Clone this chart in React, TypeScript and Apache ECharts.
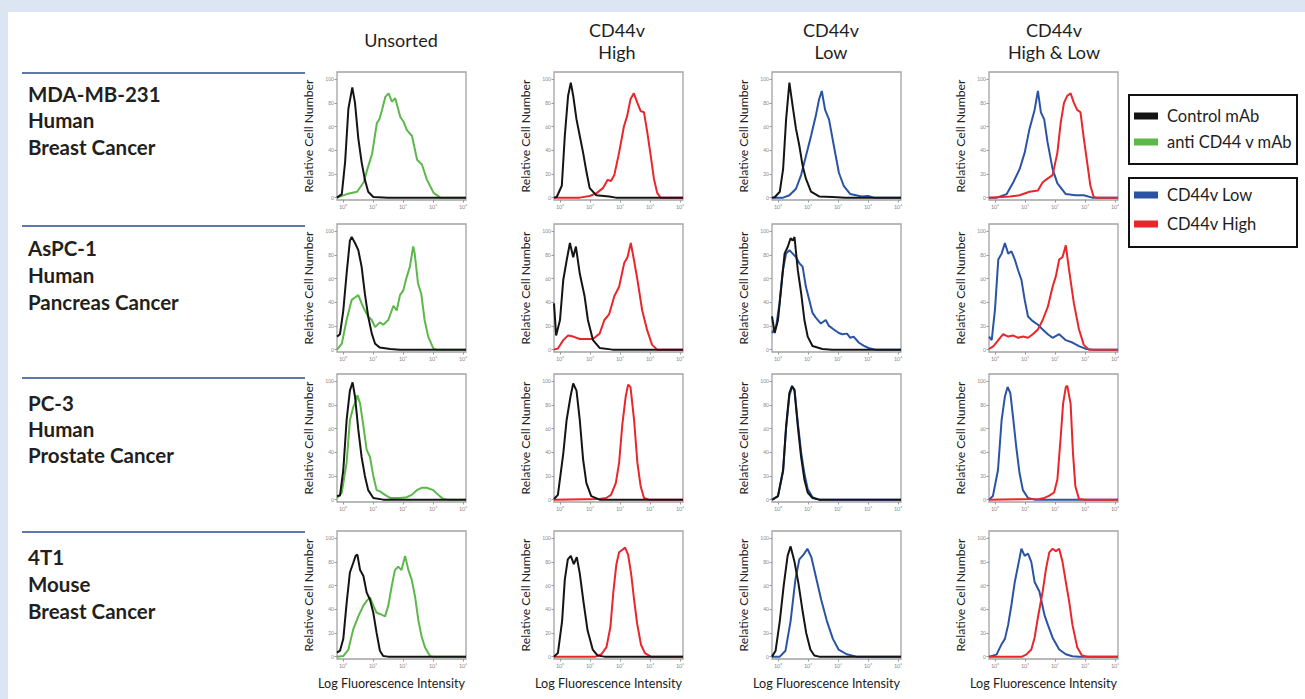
import React, { useEffect, useRef } from "react";
import * as echarts from "echarts";

// ---------- text content ----------
const columnTitles: string[][] = [["Unsorted"], ["CD44v", "High"], ["CD44v", "Low"], ["CD44v", "High & Low"]];
const rowLabels: string[][] = [
  ["MDA-MB-231", "Human", "Breast Cancer"],
  ["AsPC-1", "Human", "Pancreas Cancer"],
  ["PC-3", "Human", "Prostate Cancer"],
  ["4T1", "Mouse", "Breast Cancer"],
];
const xTickValues = [0, 1, 2, 3, 4];
const xTickLabels = ["10⁰", "10¹", "10²", "10³", "10⁴"];
const yTickValues = [0, 20, 40, 60, 80, 100];
const yAxisName = "Relative Cell Number";
const xAxisName = "Log Fluorescence Intensity";
const legendTop = ["Control mAb", "anti CD44 v mAb"];
const legendBottom = ["CD44v Low", "CD44v High"];

// ---------- data: [log10 intensity, relative cell number] ----------
const mdaUnsortedControl = [[-0.2,0],[-0.04,3],[0.07,30],[0.18,75],[0.31,93],[0.4,80],[0.51,50],[0.62,30],[0.73,15],[0.84,5],[1.01,0.5],[1.5,0],[4.1,0]];
const mdaUnsortedAnti = [[-0.2,0],[0.13,3],[0.47,5],[0.69,13],[0.8,23],[0.97,37],[1.13,63],[1.21,66],[1.3,74],[1.41,85],[1.52,88],[1.63,81],[1.74,84],[1.91,68],[2.02,64],[2.13,57],[2.3,52],[2.47,32],[2.63,28],[2.8,15],[3.02,4],[3.24,0],[4.1,0]];
const mdaHighControl = [[-0.2,0],[-0.11,0.5],[0.06,10],[0.16,52],[0.27,86],[0.36,97],[0.44,86],[0.55,66],[0.66,52],[0.77,38],[0.88,22],[0.99,8],[1.21,2],[1.64,1],[1.86,0],[4.1,0]];
const mdaHighSorted = [[-0.2,0],[0.66,0],[0.99,1.4],[1.21,3.6],[1.43,8],[1.59,15],[1.7,14],[1.81,19],[1.97,38],[2.13,60],[2.24,69],[2.35,83],[2.46,88],[2.58,80],[2.69,73],[2.8,72],[2.91,55],[3.02,36],[3.13,16],[3.24,4],[3.35,0],[4.1,0]];
const mdaLowControl = [[-0.2,0],[-0.11,0.3],[0.06,5],[0.17,24],[0.27,66],[0.38,97],[0.49,77],[0.6,58],[0.71,44],[0.82,27],[0.93,16],[1.1,5],[1.37,1],[1.81,0.5],[2.25,0],[4.1,0]];
const mdaLowSorted = [[-0.2,0],[0.17,0],[0.38,2],[0.6,7.5],[0.77,19],[0.93,35],[1.1,52],[1.26,69],[1.37,83],[1.46,90],[1.57,74],[1.7,66],[1.86,44],[2.03,21],[2.19,10],[2.41,3],[2.79,1],[3.0,1.4],[3.2,0],[4.1,0]];
const mdaBothLow = [[-0.2,0],[0.06,0],[0.39,3],[0.61,13],[0.82,24],[0.99,38],[1.15,58],[1.32,74],[1.43,90],[1.53,72],[1.64,66],[1.75,47],[1.92,24],[2.08,12],[2.36,3],[2.68,2],[2.96,2],[3.24,0],[4.1,0]];
const mdaBothHigh = [[-0.2,0],[0.5,1],[0.82,2],[1.15,5],[1.43,6],[1.59,13],[1.75,16],[1.92,19],[2.08,38],[2.19,63],[2.3,80],[2.41,86],[2.52,88],[2.63,80],[2.74,74],[2.85,72],[2.96,50],[3.07,30],[3.18,10],[3.29,0.5],[3.4,0],[4.1,0]];

const asUnsortedControl = [[-0.2,11],[-0.1,13],[0.01,33],[0.12,64],[0.23,92],[0.29,95],[0.4,90],[0.51,84],[0.62,70],[0.73,47],[0.84,28],[0.96,13.5],[1.07,5],[1.23,1.7],[1.57,0.5],[1.9,0],[4.1,0]];
const asUnsortedAnti = [[-0.2,0],[-0.04,5],[0.12,25],[0.29,42],[0.4,44],[0.51,46],[0.62,39],[0.73,33],[0.84,28],[0.96,25],[1.07,19],[1.23,23],[1.34,21],[1.51,25],[1.68,37],[1.79,33],[1.9,46],[2.01,50],[2.12,61],[2.23,70],[2.34,87],[2.39,81],[2.5,56],[2.61,47],[2.72,25],[2.84,11],[3.01,1],[3.12,0],[4.1,0]];
const asHighControl = [[-0.2,39],[-0.13,12],[0.0,25],[0.11,59],[0.22,75],[0.33,90],[0.44,78],[0.53,87],[0.66,64],[0.82,45],[0.93,25],[1.1,8],[1.32,1.4],[1.75,0],[4.1,0]];
const asHighSorted = [[-0.2,0],[-0.07,1],[0.11,8],[0.27,12],[0.44,11],[0.66,9],[0.88,9],[1.1,9],[1.32,13.5],[1.48,25],[1.64,30],[1.81,45],[1.97,53],[2.14,73],[2.25,78],[2.36,90],[2.47,75],[2.58,59],[2.74,33],[2.91,16],[3.07,4],[3.24,0],[4.1,0]];
const asLowControl = [[-0.2,28],[-0.11,14],[0.0,25],[0.11,53],[0.22,81],[0.33,87],[0.42,94],[0.49,92],[0.55,95],[0.66,67],[0.77,48],[0.88,25],[0.99,11],[1.15,3],[1.48,0.5],[1.8,0],[4.1,0]];
const asLowSorted = [[-0.2,14],[-0.06,20],[0.05,39],[0.16,67],[0.27,81],[0.38,84],[0.49,81],[0.6,78],[0.71,73],[0.82,70],[0.93,53],[1.04,42],[1.15,31],[1.26,27],[1.43,22],[1.59,25],[1.7,20],[1.86,17],[2.03,14],[2.14,13],[2.3,13.5],[2.41,10],[2.52,11],[2.69,6],[2.85,3.4],[3.02,1.4],[3.24,0],[4.1,0]];
const asBothLow = [[-0.2,11],[-0.11,8],[0.0,34],[0.11,76],[0.22,81],[0.33,90],[0.44,81],[0.55,83],[0.66,76],[0.77,67],[0.88,59],[0.99,42],[1.1,28],[1.26,24],[1.43,21],[1.59,17],[1.76,13],[1.92,10],[2.14,13],[2.36,8],[2.58,6],[2.8,3],[3.03,0.6],[3.25,0],[4.1,0]];
const asBothHigh = [[-0.2,0.5],[-0.05,3],[0.11,8],[0.27,13],[0.44,11],[0.6,12],[0.77,10],[0.93,11],[1.1,10],[1.26,13],[1.43,17],[1.59,25],[1.76,36],[1.92,53],[2.03,62],[2.14,76],[2.25,78],[2.36,88],[2.47,67],[2.63,39],[2.8,17],[2.96,4],[3.13,0],[4.1,0]];

const pcUnsortedControl = [[-0.2,3],[-0.1,3.4],[0.01,25],[0.12,67],[0.23,92],[0.32,99],[0.4,87],[0.51,59],[0.62,36],[0.73,20],[0.84,8],[1.01,1.4],[1.34,0],[4.1,0]];
const pcUnsortedAnti = [[-0.2,1.4],[-0.04,6],[0.12,31],[0.23,67],[0.34,78],[0.43,83],[0.48,88],[0.57,81],[0.68,62],[0.79,42],[0.9,36],[1.01,20],[1.12,8],[1.23,7],[1.4,4],[1.57,1.4],[1.9,1.4],[2.12,2],[2.29,4],[2.46,8],[2.62,10],[2.79,10],[3.01,8],[3.18,4],[3.34,0.5],[3.51,0],[4.1,0]];
const pcHighControl = [[-0.2,0.5],[-0.07,4],[0.11,39],[0.22,67],[0.35,87],[0.44,98],[0.55,92],[0.66,67],[0.77,34],[0.88,14],[1.04,3],[1.32,0],[4.1,0]];
const pcHighSorted = [[-0.2,0],[1.32,0.5],[1.54,1.4],[1.7,4],[1.86,14],[1.97,31],[2.08,64],[2.19,87],[2.27,97],[2.35,95],[2.47,67],[2.58,31],[2.69,11],[2.8,1.4],[2.96,0],[4.1,0]];
const pcLowControl = [[-0.2,0],[-0.16,0.5],[0.0,3],[0.17,25],[0.27,62],[0.38,90],[0.47,96],[0.55,92],[0.66,62],[0.77,36],[0.88,17],[0.99,6],[1.15,1.4],[1.37,0],[4.1,0]];
const pcLowSorted = [[-0.2,0],[-0.16,0.5],[0.0,3],[0.17,24],[0.27,60],[0.38,88],[0.47,95],[0.55,93],[0.66,65],[0.77,40],[0.88,22],[0.99,9],[1.15,2],[1.37,0],[4.1,0]];
const pcBothLow = [[-0.2,0],[-0.07,3],[0.1,25],[0.22,67],[0.33,87],[0.42,95],[0.51,90],[0.6,70],[0.71,44],[0.82,22],[0.93,8],[1.1,1.4],[1.32,0],[4.1,0]];
const pcBothHigh = [[-0.2,0],[1.48,0.5],[1.65,1.4],[1.81,3.4],[1.97,6],[2.08,17],[2.19,53],[2.27,81],[2.36,95],[2.41,96],[2.52,81],[2.6,39],[2.68,11],[2.8,0.5],[3.02,0],[4.1,0]];

const t1UnsortedControl = [[-0.2,3.4],[-0.1,5],[0.01,15],[0.12,45],[0.23,71],[0.34,79],[0.42,85],[0.48,86],[0.57,73],[0.68,68],[0.79,54],[0.9,48],[1.01,37],[1.12,20],[1.23,5],[1.34,0.5],[1.5,0],[4.1,0]];
const t1UnsortedAnti = [[-0.2,0],[0.01,0.5],[0.18,6],[0.34,23],[0.51,34],[0.68,43],[0.79,47],[0.9,50],[1.01,43],[1.12,37],[1.23,36],[1.4,34],[1.51,43],[1.62,59],[1.73,73],[1.84,76],[1.95,73],[2.07,85],[2.18,73],[2.29,65],[2.4,51],[2.51,31],[2.62,17],[2.73,8],[2.9,0.5],[3.0,0],[4.1,0]];
const t1HighControl = [[-0.2,0],[-0.07,3],[0.07,30],[0.16,65],[0.26,82],[0.36,85],[0.46,78],[0.56,84],[0.66,70],[0.79,45],[0.92,22],[1.09,6],[1.25,1],[1.48,0],[4.1,0]];
const t1HighSorted = [[-0.2,0],[1.18,0],[1.38,2],[1.55,8],[1.68,25],[1.78,55],[1.88,78],[1.97,88],[2.07,90],[2.17,92],[2.27,86],[2.37,70],[2.47,48],[2.57,28],[2.7,10],[2.83,3],[3.03,0],[4.1,0]];
const t1LowControl = [[-0.2,0],[-0.08,5],[0.06,30],[0.19,60],[0.32,85],[0.42,93],[0.55,80],[0.68,62],[0.81,40],[0.94,20],[1.08,6],[1.21,1],[1.37,0],[4.1,0]];
const t1LowSorted = [[-0.2,0],[0.06,0],[0.25,5],[0.42,30],[0.58,65],[0.71,82],[0.85,86],[0.98,91],[1.11,84],[1.24,70],[1.44,48],[1.63,30],[1.83,15],[2.02,6],[2.29,2],[2.62,0],[4.1,0]];
const t1BothLow = [[-0.2,0],[0.05,1.7],[0.22,10.5],[0.33,15],[0.44,27],[0.55,44],[0.66,63],[0.77,77],[0.88,91],[0.99,85],[1.1,87],[1.21,80],[1.32,63],[1.48,55],[1.65,35],[1.76,27],[1.92,16],[2.14,6],[2.36,2],[2.58,0.3],[2.8,0],[4.1,0]];
const t1BothHigh = [[-0.2,0],[0.9,0],[1.04,1.7],[1.21,6],[1.32,16],[1.43,33],[1.59,55],[1.7,74],[1.81,88],[1.92,91],[2.03,89],[2.14,91],[2.25,80],[2.36,63],[2.47,47],[2.58,27],[2.74,8],[2.9,1],[3.07,0],[4.1,0]];

// panels[row][col] = [first drawn curve, second drawn curve]
const panelCurves = [
  [[mdaUnsortedAnti, mdaUnsortedControl], [mdaHighSorted, mdaHighControl], [mdaLowSorted, mdaLowControl], [mdaBothLow, mdaBothHigh]],
  [[asUnsortedAnti, asUnsortedControl], [asHighSorted, asHighControl], [asLowSorted, asLowControl], [asBothLow, asBothHigh]],
  [[pcUnsortedAnti, pcUnsortedControl], [pcHighSorted, pcHighControl], [pcLowSorted, pcLowControl], [pcBothLow, pcBothHigh]],
  [[t1UnsortedAnti, t1UnsortedControl], [t1HighSorted, t1HighControl], [t1LowSorted, t1LowControl], [t1BothLow, t1BothHigh]],
];

const BLACK = "#141414";
const GREEN = "#5cb84a";
const RED = "#e8262b";
const BLUE = "#2a54a3";
const columnColors = [[GREEN, BLACK], [RED, BLACK], [BLUE, BLACK], [BLUE, RED]];

const FONT = "Lato";

export default function App() {
  const ref = useRef<HTMLDivElement>(null);
  useEffect(() => {
    if (!ref.current) return;
    const chart = echarts.init(ref.current, undefined, { renderer: "svg" });

    const colLefts = [337, 554, 772, 989];
    const rowTops = [72, 224, 374, 531];
    const W = 129;
    const H = 128;

    const grids: any[] = [];
    const xAxes: any[] = [];
    const yAxes: any[] = [];
    const series: any[] = [];

    for (let r = 0; r < 4; r++) {
      for (let c = 0; c < 4; c++) {
        const i = r * 4 + c;
        grids.push({
          left: colLefts[c], top: rowTops[r], width: W, height: H,
          show: true, borderColor: "#a3a3a3", borderWidth: 1.3, backgroundColor: "#ffffff",
        });
        xAxes.push({
          type: "value", gridIndex: i, min: -0.2, max: 4.1,
          axisLine: { show: false, onZero: false },
          axisTick: { show: true, customValues: xTickValues, length: 2.5, lineStyle: { color: "#999" } },
          axisLabel: {
            customValues: xTickValues,
            formatter: (v: number) => xTickLabels[xTickValues.indexOf(Math.round(v))] ?? "",
            fontSize: 5.5, color: "#8a8a8a", margin: 4, fontFamily: FONT,
          },
          splitLine: { show: false },
          name: r === 3 ? xAxisName : "",
          nameLocation: "middle", nameGap: 18,
          nameTextStyle: { fontSize: 12.6, color: "#222", fontFamily: FONT, padding: [0, 20, 0, 0] },
        });
        yAxes.push({
          type: "value", gridIndex: i, min: -2, max: 106,
          axisLine: { show: false, onZero: false },
          axisTick: { show: true, customValues: yTickValues, length: 2.5, lineStyle: { color: "#999" } },
          axisLabel: { customValues: yTickValues, fontSize: 5, color: "#8a8a8a", margin: 3, fontFamily: FONT },
          splitLine: { show: false },
          name: yAxisName, nameLocation: "middle", nameGap: 23,
          nameTextStyle: { fontSize: 12.2, color: "#222", fontFamily: FONT },
        });
        const curves = panelCurves[r][c];
        curves.forEach((d, k) => {
          series.push({
            type: "line", xAxisIndex: i, yAxisIndex: i, data: d,
            showSymbol: false, symbol: "none", smooth: false,
            lineStyle: { color: columnColors[c][k], width: 2 },
            z: 2 + k,
          });
        });
      }
    }

    const graphic: any[] = [];
    graphic.push({ type: "rect", z: -10, shape: { x: 8, y: 12, width: 1297, height: 687 }, style: { fill: "#ffffff" } });
    // column titles
    const titleX = [401, 617, 831, 1054];
    columnTitles.forEach((lines, c) => {
      const ys = lines.length === 1 ? [40] : [30, 52];
      lines.forEach((t, k) => {
        graphic.push({ type: "text", x: titleX[c], y: ys[k], style: { text: t, fontSize: 18, fontFamily: FONT, fill: "#1e1e1e", textAlign: "center", textVerticalAlign: "middle" } });
      });
    });
    // row labels and separator lines
    const lineYs = [73, 226, 378, 532];
    const labelYs = [[94, 120, 147], [248, 275, 302], [403, 429, 455], [557, 584, 611]];
    rowLabels.forEach((lines, r) => {
      graphic.push({ type: "line", shape: { x1: 22, y1: lineYs[r], x2: 305, y2: lineYs[r] }, style: { stroke: "#2c4a8c", lineWidth: 1.3 } });
      lines.forEach((t, k) => {
        graphic.push({ type: "text", x: 28, y: labelYs[r][k], style: { text: t, fontSize: 20.5, fontWeight: "bold", fontFamily: FONT, fill: "#231f20", textVerticalAlign: "middle" } });
      });
    });
    // legend boxes
    const boxes = [
      { y: 95, items: legendTop, colors: [BLACK, GREEN], ys: [116, 142] },
      { y: 178, items: legendBottom, colors: [BLUE, RED], ys: [195, 224] },
    ];
    boxes.forEach((b) => {
      graphic.push({ type: "rect", shape: { x: 1129, y: b.y, width: 168, height: 69 }, style: { fill: "#ffffff", stroke: "#111", lineWidth: 2 } });
      b.items.forEach((t, k) => {
        graphic.push({ type: "rect", shape: { x: 1134, y: b.ys[k] - 3.5, width: 24, height: 7 }, style: { fill: b.colors[k] } });
        graphic.push({ type: "text", x: 1167, y: b.ys[k], style: { text: t, fontSize: 16.5, fontFamily: FONT, fill: "#1e1e1e", textVerticalAlign: "middle" } });
      });
    });

    chart.setOption({
      animation: false,
      backgroundColor: "#dce6f2",
      grid: grids,
      xAxis: xAxes,
      yAxis: yAxes,
      series,
      graphic,
    });
    return () => chart.dispose();
  }, []);
  return <div ref={ref} style={{ position: "absolute", left: 0, top: 0, width: 1305, height: 699 }} />;
}
